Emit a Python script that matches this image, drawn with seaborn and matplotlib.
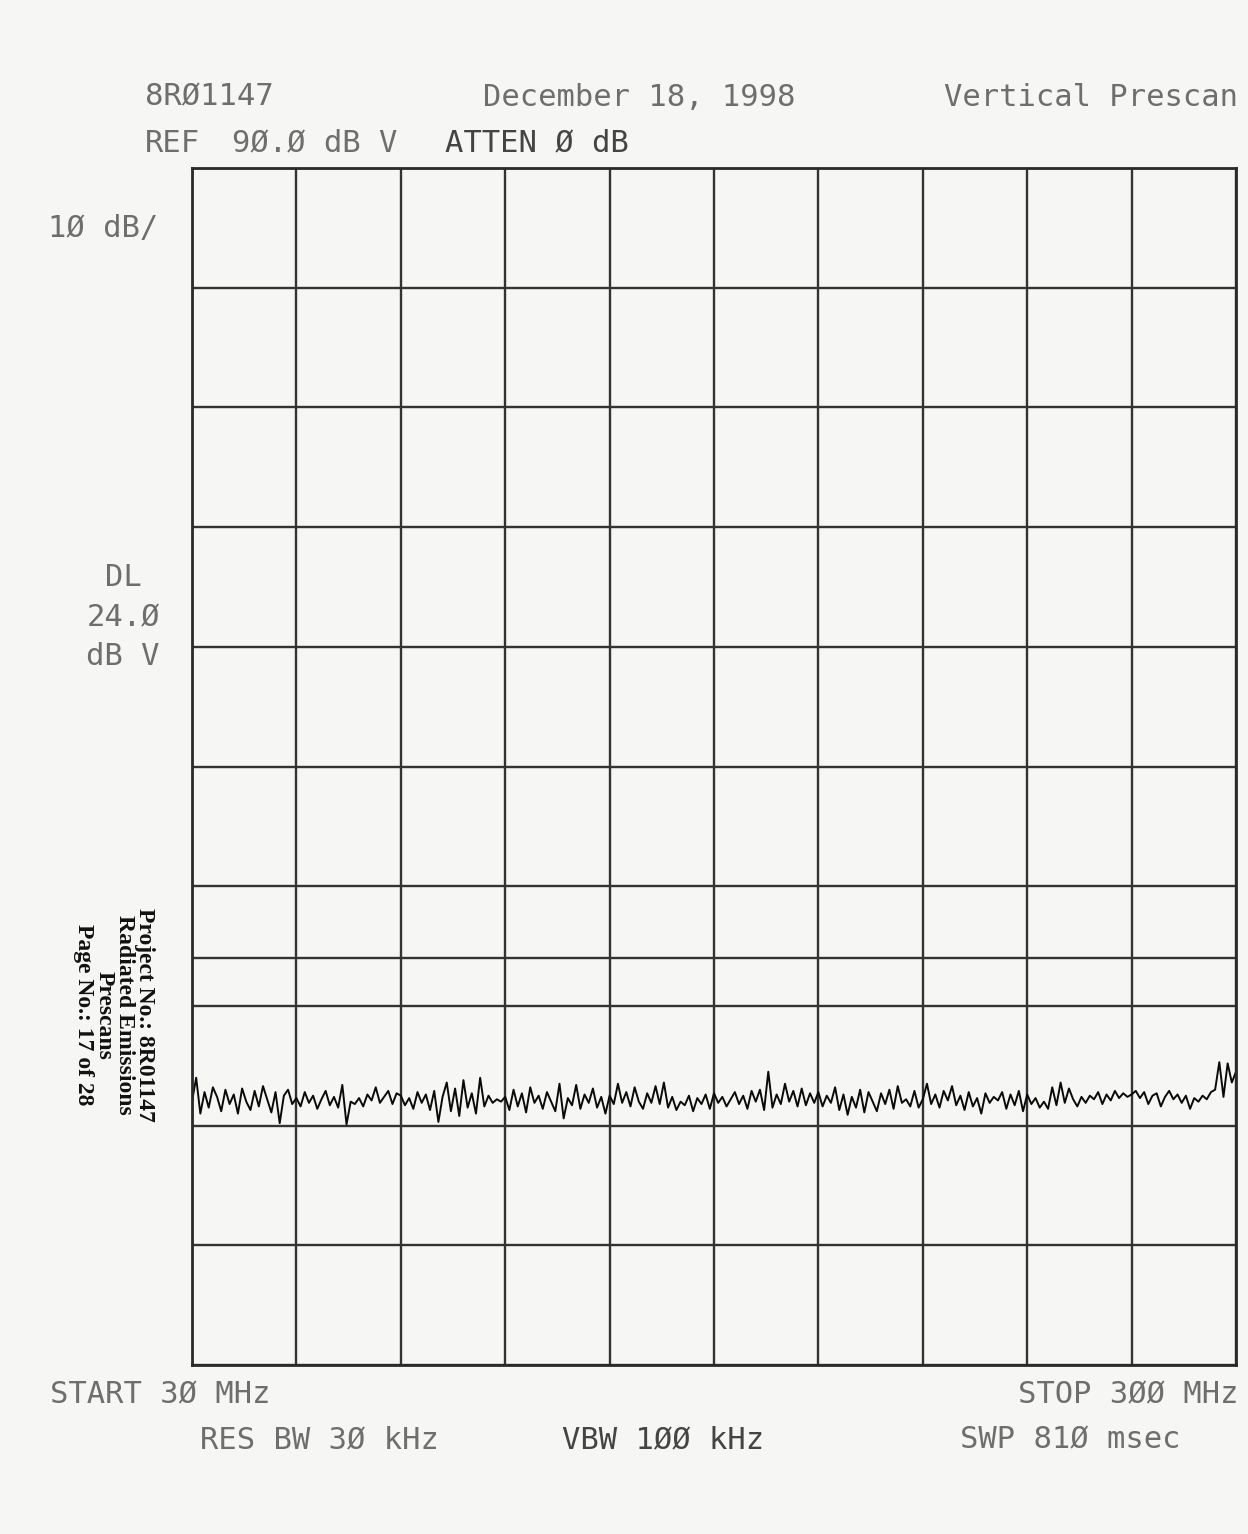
import numpy as np
import pandas as pd
import matplotlib
matplotlib.use("Agg")
import matplotlib.pyplot as plt
import seaborn as sns

# analyzer settings
start_mhz = 30
stop_mhz = 300
ref_level = 90.0
db_per_div = 10
display_line = 24.0

# trace level in dBuV, 25 readings per division, left to right
level_dbuv = [
    12.0, 14.0, 11.0, 12.8, 11.5, 13.2, 12.4, 11.2, 13.0, 11.8, 12.6, 11.0, 13.1, 12.0, 11.3, 12.9, 11.6, 13.3, 12.2, 11.1, 12.8, 10.2, 12.5, 13.0, 11.8,
    12.3, 11.6, 12.8, 11.9, 12.5, 11.4, 12.2, 12.9, 11.7, 12.4, 11.5, 13.4, 10.1, 12.0, 11.8, 12.3, 11.6, 12.6, 12.1, 13.2, 11.9, 12.4, 12.9, 11.8, 12.7,
    12.5, 11.7, 12.3, 11.4, 12.8, 11.9, 12.6, 11.3, 12.9, 10.3, 12.4, 13.6, 11.2, 13.1, 10.8, 13.8, 11.5, 12.7, 11.0, 14.0, 11.6, 12.5, 11.9, 12.2, 12.0,
    12.4, 11.3, 13.0, 11.6, 12.7, 11.1, 13.2, 11.9, 12.5, 11.4, 12.8, 12.0, 11.2, 13.5, 10.6, 12.3, 11.7, 13.4, 11.4, 12.6, 11.9, 13.1, 11.5, 12.4, 11.0,
    12.5, 11.8, 13.5, 11.9, 12.8, 11.6, 13.2, 12.0, 11.4, 12.7, 11.9, 13.3, 11.8, 13.6, 11.5, 12.4, 11.3, 12.0, 11.7, 12.5, 11.2, 12.3, 11.8, 12.6, 11.4,
    12.7, 11.9, 12.4, 11.6, 12.2, 12.8, 11.8, 12.5, 11.4, 12.9, 12.0, 13.0, 11.3, 14.5, 11.5, 12.6, 11.8, 13.5, 12.0, 12.9, 11.6, 13.1, 11.7, 12.7, 11.9,
    12.8, 11.6, 12.5, 11.9, 13.2, 11.3, 12.6, 10.9, 12.4, 11.5, 13.0, 11.1, 12.8, 12.0, 11.2, 12.7, 11.8, 13.0, 11.4, 13.3, 11.9, 12.2, 11.6, 12.9, 11.5,
    12.2, 13.5, 11.8, 12.6, 11.5, 12.9, 12.1, 13.3, 11.7, 12.5, 11.3, 12.8, 11.6, 12.3, 11.0, 12.7, 11.9, 12.4, 12.1, 12.8, 11.4, 12.6, 11.7, 12.9, 11.2,
    12.6, 11.8, 12.3, 11.5, 12.0, 11.4, 13.2, 11.7, 13.6, 11.9, 13.1, 12.2, 11.6, 12.4, 11.9, 12.5, 12.2, 12.8, 11.8, 12.6, 12.1, 12.9, 12.3, 12.7, 12.4,
    12.6, 12.9, 12.3, 12.8, 11.8, 12.5, 12.7, 11.6, 12.4, 12.9, 12.2, 12.6, 11.9, 12.5, 11.4, 12.3, 12.0, 12.5, 12.2, 12.8, 13.0, 15.3, 12.4, 15.2, 13.6,
    14.5,
]

header_texts = ["8RØ1147", "December 18, 1998", "Vertical Prescan"]
ref_texts = ["REF", "9Ø.Ø dB V", "ATTEN Ø dB"]
left_texts = ["1Ø dB/", "DL", "24.Ø", "dB V"]
bottom_texts = ["START 3Ø MHz", "STOP 3ØØ MHz", "RES BW 3Ø kHz", "VBW 1ØØ kHz", "SWP 81Ø msec"]
stamp_text = "Project No.: 8R01147\nRadiated Emissions\nPrescans\nPage No.: 17 of 28"

df = pd.DataFrame({
    "freq": np.linspace(start_mhz, stop_mhz, len(level_dbuv)),
    "level": level_dbuv,
})

sns.set_style("white")
paper = "#f6f6f4"
faint = "#6e6e6e"

W, H = 1248, 1534
fig = plt.figure(figsize=(W / 100, H / 100), dpi=100, facecolor=paper)
ax = fig.add_axes([192 / W, 1 - 1365 / H, (1236 - 192) / W, (1365 - 168) / H])
ax.set_facecolor(paper)

bottom_level = ref_level - 10 * db_per_div
ax.set_xlim(start_mhz, stop_mhz)
ax.set_ylim(bottom_level, ref_level)
ax.set_xticks(np.linspace(start_mhz, stop_mhz, 11))
ax.set_yticks(np.arange(bottom_level, ref_level + 1, db_per_div))
ax.grid(True, color="#333333", linewidth=1.7)
ax.tick_params(left=False, bottom=False, labelleft=False, labelbottom=False)
for s in ax.spines.values():
    s.set_color("#2a2a2a")
    s.set_linewidth(2)

ax.axhline(display_line, color="#333333", linewidth=1.7)
sns.lineplot(data=df, x="freq", y="level", ax=ax, color="#0a0a0a", linewidth=1.4)
ax.set_xlabel("")
ax.set_ylabel("")

mono = dict(family="DejaVu Sans Mono", fontsize=22, color=faint)

def put(x, y, s, ha="left", **kw):
    opts = dict(mono)
    opts.update(kw)
    fig.text(x / W, 1 - y / H, s, ha=ha, va="center", **opts)

put(145, 97, header_texts[0])
put(483, 97, header_texts[1])
put(1238, 97, header_texts[2], ha="right")
put(145, 143, ref_texts[0])
put(232, 143, ref_texts[1])
put(445, 143, ref_texts[2], color="#444444")

put(158, 228, left_texts[0], ha="right")
put(142, 577, left_texts[1], ha="right")
put(160, 618, left_texts[2], ha="right")
put(160, 657, left_texts[3], ha="right")

put(50, 1395, bottom_texts[0])
put(1238, 1395, bottom_texts[1], ha="right")
put(200, 1440, bottom_texts[2])
put(562, 1440, bottom_texts[3], color="#444444")
put(960, 1440, bottom_texts[4])

fig.text(114 / W, 1 - 1015 / H, stamp_text, rotation=270, ha="center", va="center",
         multialignment="center", family="Liberation Serif", fontweight="bold",
         fontsize=17, color="#111111", linespacing=0.95)

fig.savefig("out.png", dpi=100, facecolor=paper)
